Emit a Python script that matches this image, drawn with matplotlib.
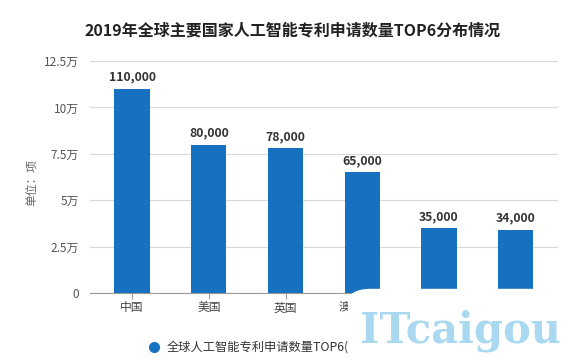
import matplotlib
matplotlib.use("Agg")
import matplotlib.pyplot as plt
from matplotlib.patches import FancyBboxPatch
from matplotlib.lines import Line2D

plt.rcParams['font.family'] = ['Noto Sans CJK SC', 'DejaVu Sans']

# ── data ─────────────────────────────────────────────────────────────────────
countries = ["中国", "美国", "英国", "澳大利亚", "德国", "日本"]
patents   = [110000, 80000, 78000, 65000, 35000, 34000]
yticks    = [0, 25000, 50000, 75000, 100000, 125000]
ytick_lbl = ["0", "2.5万", "5万", "7.5万", "10万", "12.5万"]

title      = "2019年全球主要国家人工智能专利申请数量TOP6分布情况"
series     = "全球人工智能专利申请数量TOP6(项)"
unit_label = "单位：项"

BAR  = "#1672c0"
GRID = "#d9d9d9"

fig = plt.figure(figsize=(5.8, 3.61), dpi=100)
ax = fig.add_axes([0.155, 0.188, 0.807, 0.643])

x = range(len(countries))
ax.bar(x, patents, width=0.46, color=BAR, zorder=3)
for i, v in zip(x, patents):
    ax.text(i, v + 2800, f"{v:,}", ha="center", va="bottom",
            fontsize=8.8, fontweight="bold", color="#333333", zorder=4)

ax.set_xlim(-0.55, 5.55)
ax.set_ylim(0, 125000)
ax.set_yticks(yticks)
ax.set_yticklabels(ytick_lbl)
ax.set_xticks(list(x))
ax.set_xticklabels(countries)
ax.tick_params(axis="y", length=0, pad=8, labelsize=8.5, labelcolor="#555555")
ax.tick_params(axis="x", length=4, color="#999999", pad=2, labelsize=8.5,
               labelcolor="#444444")
ax.grid(axis="y", color=GRID, linewidth=0.8, zorder=0)
for s in ["top", "right", "left"]:
    ax.spines[s].set_visible(False)
ax.spines["bottom"].set_color("#999999")

fig.text(0.055, 0.495, unit_label, rotation=90, ha="center", va="center",
         fontsize=8.5, color="#666666")
fig.text(0.505, 0.915, title, ha="center", va="center",
         fontsize=11.5, fontweight="bold", color="#222222")

# legend
fig.add_artist(Line2D([0.266], [0.039], marker="o", markersize=7,
                      color=BAR, linestyle="none", transform=fig.transFigure))
fig.text(0.288, 0.039, series, ha="left", va="center",
         fontsize=8.8, color="#333333")

# ITcaigou overlay
box = FancyBboxPatch((0.600, -0.05), 0.45, 0.25, boxstyle="round,pad=0,rounding_size=0.04",
                     transform=fig.transFigure, facecolor="white", edgecolor="none",
                     zorder=10)
fig.add_artist(box)
fig.text(0.620, 0.085, "ITcaigou", ha="left", va="center", fontsize=30,
         fontweight="bold", family="DejaVu Serif", color="#a9d8f0", zorder=11)

fig.savefig("out.png", dpi=100)
